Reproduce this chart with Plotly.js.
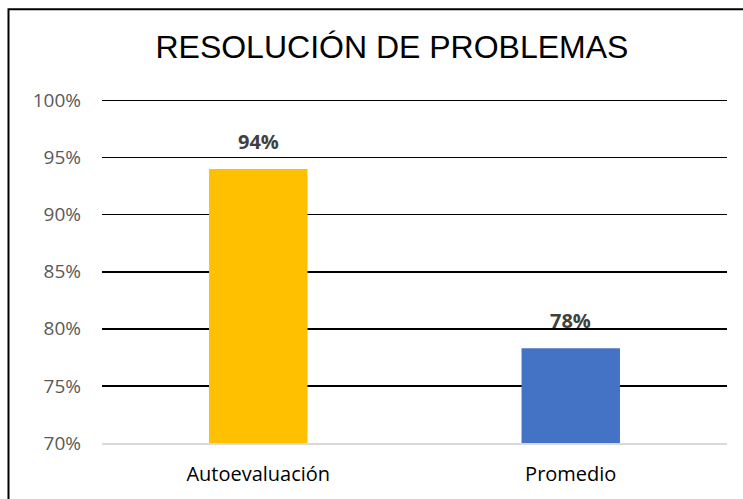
<!DOCTYPE html>
<html>
<head>
<meta charset="utf-8">
<script src="https://cdn.plot.ly/plotly-3.0.1.min.js"></script>
<style>html,body{margin:0;padding:0;background:#fff;}#chart{width:743px;height:499px;}</style>
</head>
<body>
<div id="chart"></div>
<script>
const categories = ['Autoevaluación', 'Promedio'];
const values = [0.94, 0.783];
const barLabels = ['94%', '78%'];
const barColors = ['#FFC000', '#4472C4'];
const tickValues = [0.70, 0.75, 0.80, 0.85, 0.90, 0.95, 1.00];
const tickLabels = ['70%', '75%', '80%', '85%', '90%', '95%', '100%'];
const chartTitle = 'RESOLUCIÓN DE PROBLEMAS';

const trace = {
  type: 'bar',
  x: categories,
  y: values,
  width: 0.315,
  marker: {color: barColors, line: {width: 0}},
  hoverinfo: 'none'
};

const annotations = categories.map((c, i) => ({
  x: c, y: values[i], xref: 'x', yref: 'y',
  text: barLabels[i], showarrow: false,
  yanchor: 'bottom', yshift: 12,
  font: {family: 'Open Sans, Liberation Sans, sans-serif', size: 20, color: '#404040', weight: 'bold'}
}));

const layout = {
  width: 743, height: 499,
  margin: {l: 102, r: 16, t: 97, b: 56},
  paper_bgcolor: '#ffffff', plot_bgcolor: '#ffffff',
  showlegend: false,
  title: {
    text: chartTitle,
    x: 0.5275, xanchor: 'center', xref: 'container',
    y: 0.906, yanchor: 'middle', yref: 'container',
    font: {family: 'Liberation Sans, Arial, sans-serif', size: 32, color: '#000000'}
  },
  xaxis: {
    type: 'category',
    showgrid: false, zeroline: false,
    showline: true, linecolor: '#D9D9D9', linewidth: 2,
    ticks: '', ticklabelstandoff: 12,
    tickfont: {family: 'Open Sans, sans-serif', size: 20, color: '#000000'}
  },
  yaxis: {
    range: [0.70, 1.003],
    tickvals: tickValues, ticktext: tickLabels,
    showgrid: true, gridcolor: '#000000', gridwidth: 1.6,
    zeroline: false, showline: false,
    ticks: '', ticklabelstandoff: 20,
    tickfont: {family: 'Open Sans, sans-serif', size: 19, color: '#595959'}
  },
  annotations: annotations,
  shapes: [{
    type: 'rect', xref: 'paper', yref: 'paper',
    x0: -0.1496, x1: 1.04, y0: -0.2, y1: 1.2536,
    line: {color: '#000000', width: 2}, fillcolor: 'rgba(0,0,0,0)', layer: 'above'
  }]
};

Plotly.newPlot('chart', [trace], layout, {displayModeBar: false, staticPlot: true});
</script>
</body>
</html>
